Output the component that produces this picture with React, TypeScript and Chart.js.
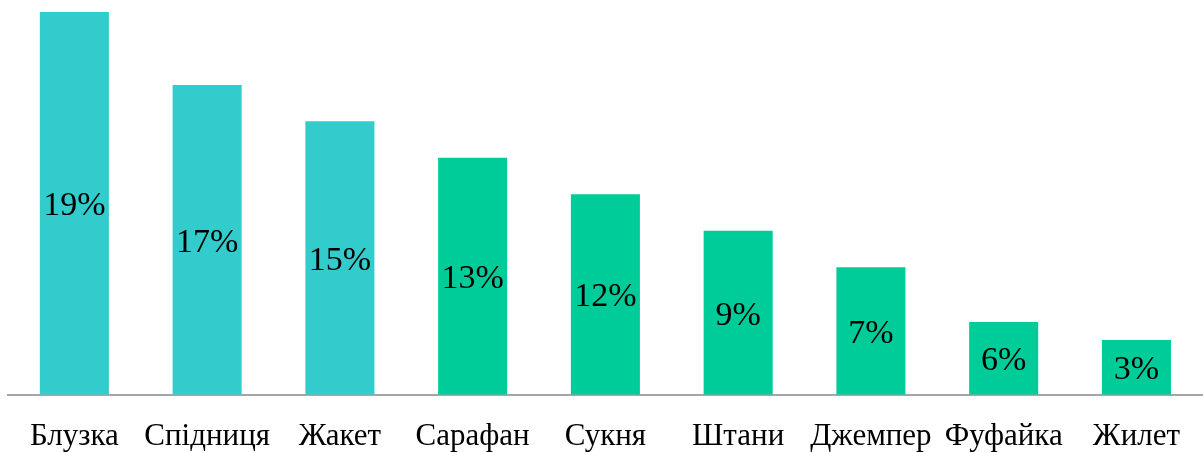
import React, { useEffect, useRef } from "react";
import { Chart, registerables } from "chart.js";

Chart.register(...registerables);

const categories = ["Блузка", "Спідниця", "Жакет", "Сарафан", "Сукня", "Штани", "Джемпер", "Фуфайка", "Жилет"];
const barValues = [21, 17, 15, 13, 11, 9, 7, 4, 3];
const valueLabels = ["19%", "17%", "15%", "13%", "12%", "9%", "7%", "6%", "3%"];
const barColors = ["#33CCCC", "#33CCCC", "#33CCCC", "#00CC99", "#00CC99", "#00CC99", "#00CC99", "#00CC99", "#00CC99"];

const FONT = "'Liberation Serif', 'Times New Roman', serif";

const insideLabels = {
  id: "insideLabels",
  afterDatasetsDraw(chart: any) {
    const ctx = chart.ctx;
    const meta = chart.getDatasetMeta(0);
    ctx.save();
    ctx.font = `34px ${FONT}`;
    ctx.fillStyle = "#000000";
    ctx.textAlign = "center";
    ctx.textBaseline = "middle";
    meta.data.forEach((bar: any, i: number) => {
      const { x, y, base } = bar.getProps(["x", "y", "base"], true);
      ctx.fillText(valueLabels[i], x, (y + base) / 2 + 3);
    });
    ctx.restore();
  },
};

export default function App() {
  const ref = useRef<HTMLCanvasElement>(null);
  useEffect(() => {
    if (!ref.current) return;
    const chart = new Chart(ref.current, {
      type: "bar",
      data: {
        labels: categories,
        datasets: [
          {
            data: barValues,
            backgroundColor: barColors,
            borderWidth: 0,
            categoryPercentage: 1,
            barPercentage: 0.52,
          },
        ],
      },
      options: {
        animation: false,
        responsive: false,
        maintainAspectRatio: false,
        layout: { padding: { left: 8, top: 12, right: 0, bottom: 0 } },
        plugins: { legend: { display: false }, tooltip: { enabled: false } },
        scales: {
          x: {
            grid: { display: false, drawTicks: false },
            border: { display: true, color: "#A6A6A6", width: 2 },
            ticks: {
              color: "#000000",
              font: { family: FONT, size: 31 },
              padding: 23,
              maxRotation: 0,
              autoSkip: false,
            },
          },
          y: {
            display: false,
            min: 0,
            max: 21,
          },
        },
      },
      plugins: [insideLabels],
    });
    return () => chart.destroy();
  }, []);
  return (
    <div style={{ position: "absolute", left: 0, top: 0, width: 1203, height: 452, overflow: "hidden" }}>
      <canvas ref={ref} width={1203} height={478} style={{ display: "block" }} />
    </div>
  );
}
